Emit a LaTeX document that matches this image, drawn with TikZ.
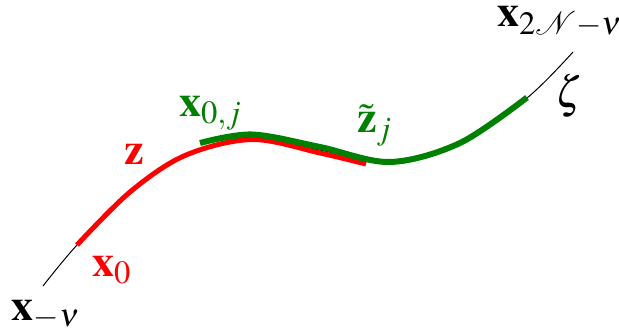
\documentclass[tikz,border=0pt]{standalone}
\usepackage{mathptmx}
\definecolor{zred}{RGB}{255,0,0}
\definecolor{zgreen}{RGB}{0,128,0}
\tikzset{
  lbl/.style={inner sep=0pt, outer sep=0pt, anchor=base west, font=\fontsize{44}{50}\selectfont},
  thinpath/.style={black, line width=1pt},
  redpath/.style={zred, line width=5pt},
  greenpath/.style={zgreen, line width=6pt},
}
\begin{document}
\begin{tikzpicture}[x=1pt, y=-1pt]
\useasboundingbox (0,0) rectangle (619,331);
% base curve
\draw[thinpath] plot[smooth, tension=0.55] coordinates {(43,286) (77,245) (130,192) (185,155) (252,137) (320,150) (390,163) (460,143) (527,98) (573,52)};
% red segment z
\draw[redpath] plot[smooth, tension=0.55] coordinates {(77,245) (130,192) (185,155.5) (252,139.5) (320,153) (366,164)};
% green segment
\draw[greenpath] plot[smooth, tension=0.55] coordinates {(200,143) (252,134.5) (320,147) (390,162) (460,143) (527,97.5)};
% labels
\node[lbl] (xmnu) at (12,320) {$\mathbf{x}_{-\nu}$};
\node[lbl, text=zred] (x0) at (92,277) {$\mathbf{x}_0$};
\node[lbl, text=zred] (z) at (124,165) {$\mathbf{z}$};
\node[lbl, text=zgreen] (x0j) at (179,117) {$\mathbf{x}_{0,j}$};
\node[lbl, text=zgreen] (ztj) at (357,133) {$\tilde{\mathbf{z}}_j$};
\node[lbl] (xend) at (497,27) {$\mathbf{x}_{2\mathcal{N}-\nu}$};
\node[lbl] (zeta) at (555,108) {$\zeta$};
\end{tikzpicture}
\end{document}
